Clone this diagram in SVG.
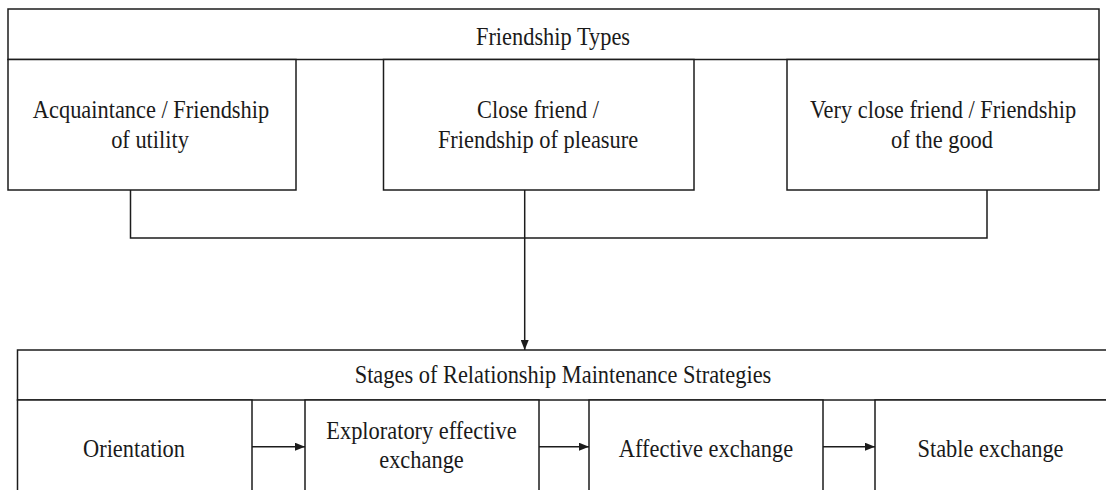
<svg xmlns="http://www.w3.org/2000/svg" width="1106" height="490" viewBox="0 0 1106 490">
<defs>
<style>
.box{fill:#fff;stroke:#1c1c1c;stroke-width:1.5}
.ln{fill:none;stroke:#1c1c1c;stroke-width:1.5}
.t{font-family:'Liberation Serif','Times New Roman',Times,serif;font-size:22.4px;fill:#1a1a1a;text-anchor:middle}
</style>
<marker id="ah" viewBox="0 0 10 8" refX="10" refY="4" markerWidth="10" markerHeight="8" markerUnits="userSpaceOnUse" orient="auto">
<path d="M0,0 L10,4 L0,8 Z" fill="#1c1c1c"/>
</marker>
</defs>
<rect width="1106" height="490" fill="#fff"/>

<g id="friendship-types">
<rect class="box" x="8" y="9" width="1091" height="50.5"/>
<text class="t" transform="translate(553,45) scale(1,1.16)">Friendship Types</text>
</g>
<g id="acquaintance">
<rect class="box" x="8" y="59.5" width="288" height="130.5"/>
<text class="t" transform="translate(151,118) scale(1,1.16)">Acquaintance / Friendship</text>
<text class="t" transform="translate(150,148) scale(1,1.16)">of utility</text>
</g>
<g id="close-friend">
<rect class="box" x="383.5" y="59.5" width="310.5" height="130.5"/>
<text class="t" transform="translate(538,118) scale(1,1.16)">Close friend /</text>
<text class="t" transform="translate(538,148) scale(1,1.16)">Friendship of pleasure</text>
</g>
<g id="very-close-friend">
<rect class="box" x="787" y="59.5" width="312" height="130.5"/>
<text class="t" transform="translate(943,118) scale(1,1.16)">Very close friend / Friendship</text>
<text class="t" transform="translate(942,148) scale(1,1.16)">of the good</text>
</g>

<g id="stages">
<rect class="box" x="17.5" y="350" width="1095" height="50"/>
<text class="t" transform="translate(563,383) scale(1,1.16)">Stages of Relationship Maintenance Strategies</text>
</g>
<g id="orientation">
<rect class="box" x="17.5" y="400" width="234.5" height="100"/>
<text class="t" transform="translate(134,456.5) scale(1,1.16)">Orientation</text>
</g>
<g id="exploratory">
<rect class="box" x="305" y="400" width="234" height="100"/>
<text class="t" transform="translate(421.5,439) scale(1,1.16)">Exploratory effective</text>
<text class="t" transform="translate(421.5,468) scale(1,1.16)">exchange</text>
</g>
<g id="affective">
<rect class="box" x="589" y="400" width="234" height="100"/>
<text class="t" transform="translate(706,456.5) scale(1,1.16)">Affective exchange</text>
</g>
<g id="stable">
<rect class="box" x="875" y="400" width="240" height="100"/>
<text class="t" transform="translate(990.5,456.5) scale(1,1.16)">Stable exchange</text>
</g>

<g id="connectors">
<polyline class="ln" points="130.5,190 130.5,238 987,238 987,190"/>
<line class="ln" x1="524.7" y1="190" x2="524.7" y2="350" marker-end="url(#ah)"/>
<line class="ln" x1="252" y1="446.7" x2="305" y2="446.7" marker-end="url(#ah)"/>
<line class="ln" x1="539" y1="446.7" x2="589" y2="446.7" marker-end="url(#ah)"/>
<line class="ln" x1="823" y1="446.7" x2="875" y2="446.7" marker-end="url(#ah)"/>
</g>
</svg>
